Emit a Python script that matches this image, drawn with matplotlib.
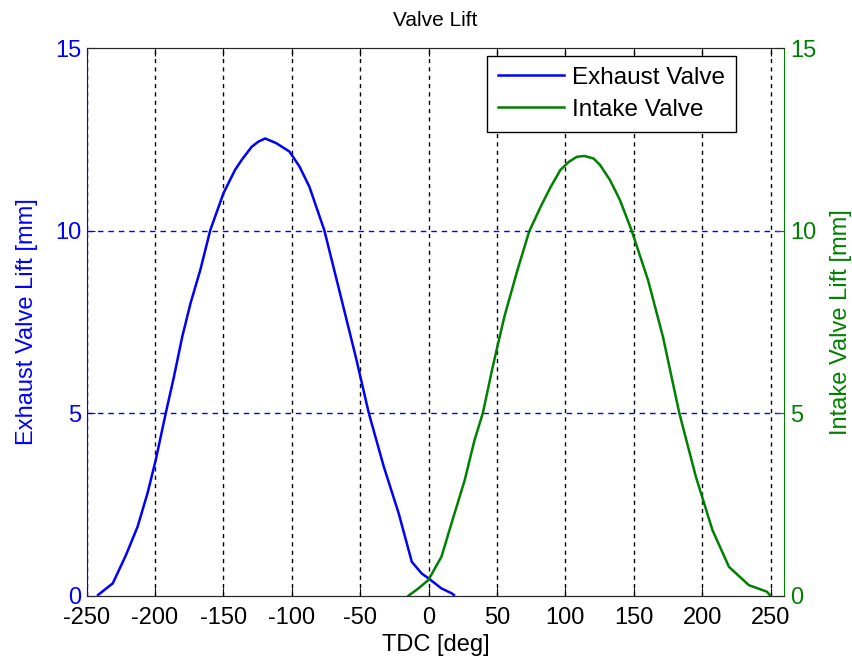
import matplotlib
matplotlib.use("Agg")
import matplotlib.pyplot as plt

plt.rcParams['font.family'] = ['Liberation Sans', 'DejaVu Sans']
plt.rcParams['axes.unicode_minus'] = False

# Exhaust valve lift profile (crank angle in deg, lift in mm)
exhaust_deg = [-241.7, -230.9, -221.2, -212.8, -205.5, -199.5, -192.2, -186.2, -180.1,
               -174.1, -166.9, -159.6, -150.0, -141.5, -136.7, -129.4, -124.6, -119.5,
               -111.3, -101.7, -94.4, -87.2, -76.3, -65.4, -53.3, -43.7, -32.8, -21.9,
               -12.3, -5.1, -0.2, 9.4, 16.7, 18.5]
exhaust_lift = [0.02, 0.34, 1.12, 1.89, 2.81, 3.72, 5.0, 6.0, 7.1,
                8.01, 8.93, 10.02, 11.03, 11.67, 11.94, 12.3, 12.44, 12.53,
                12.4, 12.17, 11.76, 11.21, 10.02, 8.38, 6.55, 5.0, 3.54, 2.26,
                0.93, 0.61, 0.48, 0.2, 0.07, 0.02]

# Intake valve lift profile
intake_deg = [-14.7, -7.5, -0.2, 9.4, 16.7, 26.4, 33.6, 39.6, 46.9, 55.4, 65.0, 73.5,
              81.9, 89.2, 96.4, 102.5, 108.5, 114.0, 120.6, 125.4, 132.6, 139.9, 148.3,
              160.4, 171.3, 183.3, 195.4, 207.5, 219.6, 234.1, 247.4, 249.8]
intake_lift = [0.0, 0.2, 0.43, 1.07, 1.98, 3.17, 4.27, 5.0, 6.28, 7.65, 8.93, 9.98,
               10.66, 11.2, 11.67, 11.89, 12.03, 12.05, 11.98, 11.8, 11.39, 10.84, 10.02,
               8.65, 7.1, 5.0, 3.26, 1.8, 0.79, 0.29, 0.11, 0.0]

x_ticks = [-250, -200, -150, -100, -50, 0, 50, 100, 150, 200, 250]
y_ticks = [0, 5, 10, 15]

BLUE = (0, 0, 1)
GREEN = (0, 0.5, 0)
FS = 17

fig = plt.figure(figsize=(8.53, 6.62), dpi=100)
ax1 = fig.add_axes([0.1016, 0.1001, 0.8178, 0.8269])
ax2 = ax1.twinx()

l1, = ax1.plot(exhaust_deg, exhaust_lift, color=BLUE, lw=1.8, label='Exhaust Valve')
l2, = ax2.plot(intake_deg, intake_lift, color=GREEN, lw=1.8, label='Intake Valve')

for ax in (ax1, ax2):
    ax.set_xlim(-250, 260)
    ax.set_ylim(0, 15)
    ax.set_yticks(y_ticks)
ax1.set_xticks(x_ticks)

# grid: black dotted verticals, blue dashed horizontals
for xv in x_ticks:
    ax1.axvline(xv, color='black', lw=1.0, ls=(0, (3, 3)), zorder=0.5)
for yv in y_ticks[1:-1]:
    ax1.axhline(yv, color=BLUE, lw=1.0, ls=(0, (4, 3.5)), zorder=0.5)

ax1.tick_params(axis='x', direction='in', length=6, top=True, labelsize=FS,
                colors='black', pad=8)
ax1.tick_params(axis='y', direction='in', length=6, labelsize=FS, colors=BLUE, pad=4)
ax2.tick_params(axis='y', direction='in', length=6, labelsize=FS, colors=GREEN, pad=4)

ax1.spines['left'].set_color(BLUE)
ax2.spines['left'].set_visible(False)
ax1.spines['right'].set_visible(False)
ax2.spines['right'].set_color(GREEN)
for ax in (ax1, ax2):
    ax.spines['top'].set_color('#262626')
    ax.spines['bottom'].set_color('#262626')

ax1.set_xlabel('TDC [deg]', fontsize=FS, labelpad=4)
ax1.set_ylabel('Exhaust Valve Lift [mm]', fontsize=FS, color=BLUE, labelpad=12)
ax2.set_ylabel('Intake Valve Lift [mm]', fontsize=FS, color=GREEN, labelpad=10)
ax1.set_title('Valve Lift', fontsize=15, pad=16)

leg = ax2.legend(handles=[l1, l2], loc='upper right', bbox_to_anchor=(0.931, 0.986),
                 fontsize=17.5, frameon=True, fancybox=False, framealpha=1,
                 edgecolor='black', handlelength=2.7, handletextpad=0.35,
                 borderpad=0.45, labelspacing=0.4, borderaxespad=0)
leg.get_frame().set_linewidth(1.0)

fig.savefig('out.png', dpi=100)
